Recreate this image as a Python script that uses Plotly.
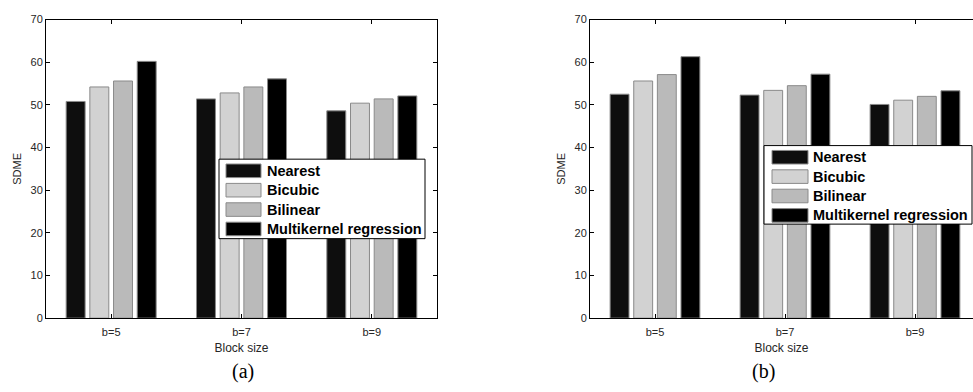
import plotly.graph_objects as go

categories = ["b=5", "b=7", "b=9"]
methods = ["Nearest", "Bicubic", "Bilinear", "Multikernel regression"]
colors = ["#0e0e0e", "#d2d2d2", "#bababa", "#000000"]

# panel (a)
values_a = {
    "Nearest": [50.8, 51.4, 48.6],
    "Bicubic": [54.2, 52.8, 50.4],
    "Bilinear": [55.6, 54.2, 51.4],
    "Multikernel regression": [60.2, 56.1, 52.1],
}
# panel (b)
values_b = {
    "Nearest": [52.5, 52.3, 50.1],
    "Bicubic": [55.6, 53.4, 51.1],
    "Bilinear": [57.1, 54.5, 52.0],
    "Multikernel regression": [61.3, 57.2, 53.3],
}
y_ticks = [0, 10, 20, 30, 40, 50, 60, 70]
xpos = [1, 2, 3]

fig = go.Figure()
for m, c in zip(methods, colors):
    fig.add_trace(go.Bar(x=xpos, y=values_a[m], name=m, marker_color=c,
                         marker_line=dict(color="#8a8a8a", width=1),
                         xaxis="x", yaxis="y", showlegend=False))
for m, c in zip(methods, colors):
    fig.add_trace(go.Bar(x=xpos, y=values_b[m], name=m, marker_color=c,
                         marker_line=dict(color="#8a8a8a", width=1),
                         xaxis="x2", yaxis="y2", showlegend=False))

W, H = 973, 392
FONT = "Liberation Sans, Arial"
tickfont = dict(family=FONT, size=11, color="#262626")
ax_common = dict(showline=True, linecolor="black", linewidth=1, ticks="inside",
                 ticklen=4, tickcolor="black", showgrid=False, zeroline=False,
                 tickfont=tickfont)

def xd(a, b):
    return [a / W, min(b / W, 1)]
ydom = [1 - 322 / H, 1 - 14 / H]

xtitle = dict(text="Block size", font=dict(family=FONT, size=12, color="#262626"), standoff=6)
ytitle = dict(text="SDME", font=dict(family=FONT, size=11, color="#262626"), standoff=6)

shapes = []
annotations = []

def add_legend(x0, y0, x1, y1, sw_x0, sw_x1, txt_x, row0, step):
    shapes.append(dict(type="rect", xref="paper", yref="paper",
                       x0=x0 / W, x1=x1 / W, y0=1 - y1 / H, y1=1 - y0 / H,
                       line=dict(color="black", width=1), fillcolor="white", layer="above"))
    for i, (m, c) in enumerate(zip(methods, colors)):
        yc = row0 + i * step
        shapes.append(dict(type="rect", xref="paper", yref="paper",
                           x0=sw_x0 / W, x1=sw_x1 / W, y0=1 - (yc + 7) / H, y1=1 - (yc - 7) / H,
                           line=dict(color="#8a8a8a", width=1), fillcolor=c, layer="above"))
        annotations.append(dict(text=m, x=txt_x / W, y=1 - yc / H, xref="paper", yref="paper",
                                xanchor="left", yanchor="middle", showarrow=False,
                                font=dict(family=FONT, size=14.5, color="black", weight="bold")))

add_legend(219, 158, 425, 240, 226, 261, 265, 170, 20)
add_legend(764, 144, 972, 225, 772, 808, 811, 156, 20)

annotations += [
    dict(text="(a)", x=230 / W, y=1 - 377 / H, xref="paper", yref="paper", showarrow=False,
         yanchor="middle", font=dict(family="Liberation Serif, Times New Roman", size=20, color="black")),
    dict(text="(b)", x=777 / W, y=1 - 377 / H, xref="paper", yref="paper", showarrow=False,
         yanchor="middle", font=dict(family="Liberation Serif, Times New Roman", size=20, color="black")),
]

fig.update_layout(
    width=W, height=H, margin=dict(l=0, r=0, t=0, b=0),
    paper_bgcolor="white", plot_bgcolor="white",
    barmode="group", bargap=0.273, bargroupgap=0.2, showlegend=False,
    xaxis=dict(domain=xd(46, 437), range=[0.5, 3.5], tickvals=xpos, ticktext=categories,
               mirror="ticks", anchor="y", ticklabelstandoff=4, title=xtitle, **ax_common),
    yaxis=dict(domain=ydom, range=[0, 70], tickvals=y_ticks, mirror="ticks", anchor="x",
               title=ytitle, **ax_common),
    xaxis2=dict(domain=xd(590, 973), range=[0.5, 0.5 + 383 / 130], tickvals=xpos, ticktext=categories,
                mirror="ticks", anchor="y2", ticklabelstandoff=4, title=xtitle, **ax_common),
    yaxis2=dict(domain=ydom, range=[0, 70], tickvals=y_ticks, mirror=False, anchor="x2",
                title=ytitle, **ax_common),
    shapes=shapes,
    annotations=annotations,
)

fig.write_html("out.html")
